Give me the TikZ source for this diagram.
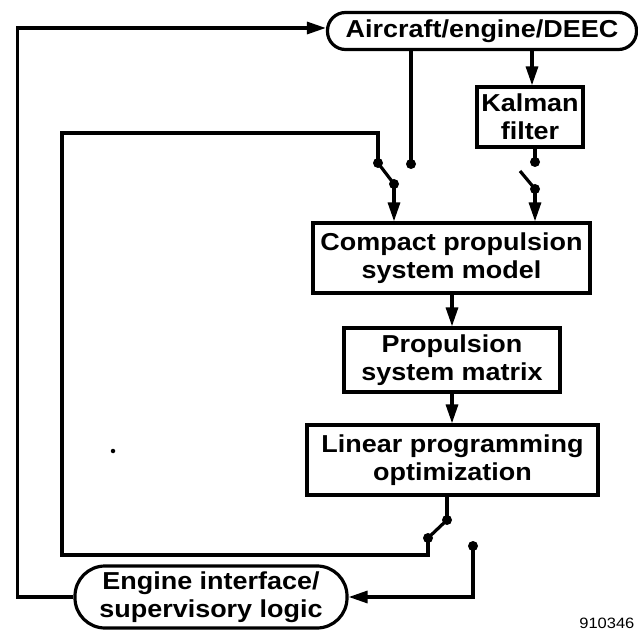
\documentclass[tikz,border=0pt]{standalone}
\usepackage{fontspec}
\setmainfont{Liberation Sans}[FakeStretch=1.1]
\usetikzlibrary{arrows.meta}
\begin{document}
\begin{tikzpicture}[x=1pt,y=-1pt,line width=3.2pt,
  box/.style={draw, rectangle, inner sep=0pt, align=center,
    font=\fontsize{24.5}{28}\selectfont\bfseries},
  pill/.style={box},
  arr/.style={-{Triangle[length=19pt,width=12pt]}},
  dot/.style={circle, fill, inner sep=0pt, minimum size=10pt},
  speckstyle/.style={circle, fill, inner sep=0pt, minimum size=4.5pt}]
\useasboundingbox (0,0) rectangle (638,631);

% nodes
\node[pill, rounded corners=18pt, minimum width=309pt, minimum height=37pt] (top) at (482,31) {Aircraft/engine/DEEC};
\node[box, minimum width=106pt, minimum height=60pt] (kalman) at (530,117) {Kalman\\filter};
\node[box, minimum width=277pt, minimum height=70pt] (compact) at (451.5,258) {Compact propulsion\\system model};
\node[box, minimum width=216pt, minimum height=64pt] (matrix) at (452,360) {Propulsion\\system matrix};
\node[box, minimum width=291pt, minimum height=70pt] (lp) at (452.5,460) {Linear programming\\optimization};
\node[pill, rounded corners=30pt, minimum width=272pt, minimum height=62pt] (engine) at (211,597) {Engine interface/\\supervisory logic};
\node[font=\fontsize{15}{15}\selectfont, anchor=east, inner sep=0pt] (code) at (636,623) {910346};

% switch contacts
\node[dot] (s1a) at (378,163) {};
\node[dot] (s1b) at (411,164) {};
\node[dot] (s1c) at (394,184) {};
\node[dot] (k1) at (535,162) {};
\node[dot] (k3) at (535,189) {};
\coordinate (k2) at (520,171);
\node[dot] (s3a) at (447,520) {};
\node[dot] (s3b) at (428,538) {};
\node[dot] (s4) at (473,546) {};
\node[speckstyle] (speck) at (113,451) {};

% helper coordinates
\coordinate (kt) at (532,0);
\coordinate (ol) at (17.5,28);
\coordinate (il1) at (62,133);
\coordinate (il2) at (62,555);

% outer loop
\draw[arr] (engine.west) -| (ol) -- (top.west |- ol);
% top to Kalman
\draw[arr] (top.south -| kt) -- (kalman.north -| kt);
% top to open contact
\draw (top.south -| s1b) -- (s1b.center);
% inner loop
\draw (s1a.center) |- (il1) -- (il2) -| (s3b.center);
% switch 1
\draw (s1a.center) -- (s1c.center);
\draw[arr] (s1c.center) -- (s1c |- compact.north);
% Kalman switch
\draw (kalman.south -| k1) -- (k1.center);
\draw (k2) -- (k3.center);
\draw[arr] (k3.center) -- (k3 |- compact.north);
% chain
\draw[arr] (compact.south -| matrix.north) -- (matrix.north);
\draw[arr] (matrix.south) -- (matrix.south |- lp.north);
% LP switch
\draw (lp.south -| s3a) -- (s3a.center);
\draw (s3a.center) -- (s3b.center);
% to engine interface
\draw[arr] (s4.center) |- (engine.east);
\end{tikzpicture}
\end{document}
